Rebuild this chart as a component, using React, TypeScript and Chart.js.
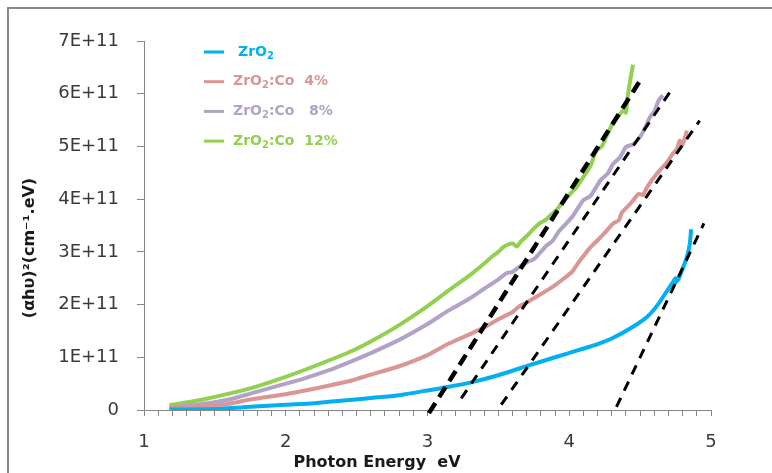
import React, { useEffect, useRef } from "react";
import { Chart, registerables } from "chart.js";

Chart.register(...registerables);

// ---------- data (y values in units of 1E+11) ----------
const seriesNames = ["ZrO2", "ZrO2:Co  4%", "ZrO2:Co   8%", "ZrO2:Co  12%"];
const seriesColors = ["#00B0F0", "#D99694", "#B3A2C7", "#92D050"];

const zro2Energy = [1.18, 1.5, 1.75, 2.0, 2.2, 2.45, 2.65, 2.8, 3.0, 3.15, 3.3, 3.5, 3.72, 3.9, 4.07, 4.2, 4.31, 4.45, 4.55, 4.62, 4.69, 4.73, 4.75, 4.74, 4.77, 4.8, 4.83, 4.85, 4.86];
const zro2Values = [0.01, 0.02, 0.06, 0.1, 0.13, 0.19, 0.24, 0.28, 0.37, 0.44, 0.52, 0.66, 0.85, 1.0, 1.14, 1.25, 1.37, 1.58, 1.77, 1.98, 2.26, 2.42, 2.5, 2.4, 2.48, 2.68, 2.9, 3.15, 3.43];

const co4Energy = [1.18, 1.4, 1.6, 1.75, 2.0, 2.1, 2.3, 2.45, 2.6, 2.8, 3.0, 3.15, 3.3, 3.4, 3.5, 3.6, 3.65, 3.7, 3.8, 3.88, 3.96, 4.02, 4.05, 4.1, 4.15, 4.2, 4.25, 4.31, 4.35, 4.37, 4.43, 4.49, 4.52, 4.55, 4.6, 4.64, 4.69, 4.73, 4.76, 4.78, 4.8, 4.83];
const co4Values = [0.04, 0.07, 0.12, 0.2, 0.3, 0.35, 0.46, 0.55, 0.67, 0.83, 1.04, 1.26, 1.44, 1.57, 1.72, 1.86, 1.97, 2.04, 2.2, 2.33, 2.49, 2.62, 2.74, 2.92, 3.09, 3.22, 3.36, 3.54, 3.6, 3.74, 3.91, 4.1, 4.08, 4.23, 4.42, 4.55, 4.7, 4.86, 4.95, 5.11, 5.04, 5.3];

const co8Energy = [1.18, 1.4, 1.6, 1.75, 2.0, 2.1, 2.3, 2.45, 2.6, 2.8, 3.0, 3.15, 3.3, 3.4, 3.5, 3.56, 3.6, 3.65, 3.7, 3.75, 3.79, 3.84, 3.88, 3.93, 3.98, 4.03, 4.1, 4.15, 4.22, 4.27, 4.31, 4.36, 4.4, 4.45, 4.5, 4.54, 4.57, 4.6, 4.63, 4.66];
const co8Values = [0.05, 0.11, 0.2, 0.31, 0.5, 0.57, 0.75, 0.91, 1.08, 1.33, 1.63, 1.89, 2.12, 2.3, 2.48, 2.6, 2.62, 2.72, 2.8, 2.86, 2.97, 3.12, 3.2, 3.4, 3.54, 3.7, 3.98, 4.06, 4.36, 4.48, 4.67, 4.8, 4.99, 5.04, 5.18, 5.38, 5.56, 5.66, 5.87, 5.97];

const co12Energy = [1.18, 1.4, 1.6, 1.75, 2.0, 2.2, 2.45, 2.6, 2.8, 3.0, 3.15, 3.3, 3.4, 3.46, 3.5, 3.53, 3.56, 3.6, 3.63, 3.66, 3.7, 3.75, 3.79, 3.83, 3.87, 3.91, 3.95, 4.0, 4.05, 4.1, 4.15, 4.19, 4.23, 4.26, 4.3, 4.33, 4.36, 4.39, 4.4, 4.41, 4.43, 4.45];
const co12Values = [0.09, 0.19, 0.31, 0.41, 0.63, 0.83, 1.1, 1.3, 1.61, 1.97, 2.27, 2.56, 2.78, 2.92, 3.0, 3.08, 3.13, 3.16, 3.1, 3.2, 3.3, 3.44, 3.54, 3.6, 3.7, 3.79, 3.93, 4.08, 4.22, 4.42, 4.63, 4.92, 5.0, 5.18, 5.4, 5.52, 5.62, 5.71, 5.64, 5.9, 6.25, 6.55];

// tangent (band-gap) lines
const fitZro2Energy = [4.333, 4.95];
const fitZro2Values = [0.06, 3.54];
const fitCo4Energy = [3.52, 4.92];
const fitCo4Values = [0.1, 5.49];
const fitCo8Energy = [3.238, 4.71];
const fitCo8Values = [0.22, 6.03];
const fitCo12Energy = [3.01, 4.5];
const fitCo12Values = [-0.06, 6.25];

const xMin = 1;
const xMax = 5;
const yMin = 0;
const yMax = 7;
const xTitle = "Photon Energy  eV";
const yTitle = "(αhυ)²(cm⁻¹.eV)";

const FONT = '"DejaVu Sans", sans-serif';

const pts = (xs: number[], ys: number[]) => xs.map((x, i) => ({ x, y: ys[i] }));

const textPlugin = {
  id: "customText",
  afterDraw(chart: any) {
    const ctx: CanvasRenderingContext2D = chart.ctx;
    const area = chart.chartArea;
    ctx.save();
    // legend
    seriesNames.forEach((name, i) => {
      const y = area.top + 11 + i * 29.7;
      const lx = area.left + 60;
      ctx.strokeStyle = seriesColors[i];
      ctx.lineWidth = 3;
      ctx.beginPath();
      ctx.moveTo(lx, y);
      ctx.lineTo(lx + 20, y);
      ctx.stroke();
      ctx.fillStyle = seriesColors[i];
      ctx.textBaseline = "middle";
      ctx.textAlign = "left";
      let x = lx + 29 + (i === 0 ? 5 : 0);
      const idx = name.indexOf("ZrO2");
      const head = name.slice(0, idx + 3);
      const rest = name.slice(idx + 4);
      ctx.font = `bold 14px ${FONT}`;
      ctx.fillText(head, x, y);
      x += ctx.measureText(head).width;
      ctx.font = `bold 10px ${FONT}`;
      ctx.fillText("2", x, y + 4);
      x += ctx.measureText("2").width;
      ctx.font = `bold 14px ${FONT}`;
      ctx.fillText(rest, x, y);
    });
    // axis titles
    ctx.fillStyle = "#1a1a1a";
    ctx.font = `bold 16px ${FONT}`;
    ctx.textAlign = "center";
    ctx.textBaseline = "middle";
    ctx.fillText(xTitle, area.left + 233, chart.height - 10);
    ctx.translate(21, area.top + 207);
    ctx.rotate(-Math.PI / 2);
    ctx.fillText(yTitle, 0, 0);
    ctx.restore();
  },
};

export default function App() {
  const ref = useRef<HTMLCanvasElement | null>(null);
  useEffect(() => {
    if (!ref.current) return;
    const curve = (label: string, xs: number[], ys: number[], color: string) => ({
      label,
      data: pts(xs, ys),
      borderColor: color,
      backgroundColor: color,
      borderWidth: 4,
      pointRadius: 0,
      tension: 0.2,
      fill: false,
      order: 2,
    });
    const fit = (xs: number[], ys: number[], w: number, dash: number[]) => ({
      label: "fit",
      data: pts(xs, ys),
      borderColor: "#000000",
      borderWidth: w,
      borderDash: dash,
      pointRadius: 0,
      tension: 0,
      fill: false,
      clip: 8,
      order: 1,
    });
    const chart = new Chart(ref.current, {
      type: "line",
      data: {
        datasets: [
          curve(seriesNames[0], zro2Energy, zro2Values, seriesColors[0]),
          curve(seriesNames[1], co4Energy, co4Values, seriesColors[1]),
          curve(seriesNames[2], co8Energy, co8Values, seriesColors[2]),
          curve(seriesNames[3], co12Energy, co12Values, seriesColors[3]),
          fit(fitZro2Energy, fitZro2Values, 3, [10, 8]),
          fit(fitCo4Energy, fitCo4Values, 3, [10, 8]),
          fit(fitCo8Energy, fitCo8Values, 3, [10, 8]),
          fit(fitCo12Energy, fitCo12Values, 4.5, [12, 7]),
        ] as any,
      },
      options: {
        responsive: false,
        animation: false,
        devicePixelRatio: 1,
        layout: { padding: { top: 32, right: 61, left: 0, bottom: 0 } },
        plugins: { legend: { display: false }, tooltip: { enabled: false }, title: { display: false } },
        scales: {
          x: {
            type: "linear",
            min: xMin,
            max: xMax,
            ticks: {
              stepSize: 0.1,
              maxTicksLimit: 100,
              autoSkip: false,
              maxRotation: 0,
              minRotation: 0,
              padding: 16,
              color: "#3a3a3a",
              font: { family: FONT, size: 18 },
              callback: (v: any) => (Math.abs(v - Math.round(v)) < 1e-6 ? String(Math.round(v)) : ""),
            },
            grid: { drawOnChartArea: false, drawTicks: true, tickLength: 6, color: "#868686" },
            border: { display: true, color: "#868686", width: 1 },
            afterFit: (s: any) => {
              s.height = 63;
            },
          },
          y: {
            type: "linear",
            min: yMin,
            max: yMax,
            ticks: {
              stepSize: 1,
              padding: 18,
              color: "#3a3a3a",
              font: { family: FONT, size: 18 },
              callback: (v: any) => (v === 0 ? "0" : `${v}E+11`),
            },
            grid: { drawOnChartArea: false, drawTicks: true, tickLength: 7, color: "#868686" },
            border: { display: true, color: "#868686", width: 1 },
            afterFit: (s: any) => {
              s.width = 135;
            },
          },
        },
      } as any,
      plugins: [textPlugin],
    });
    return () => chart.destroy();
  }, []);
  return (
    <div
      style={{
        position: "fixed",
        left: 7,
        top: 7,
        width: 770,
        height: 470,
        borderLeft: "2px solid #8a8a8a",
        borderTop: "2px solid #8a8a8a",
        background: "#ffffff",
        overflow: "hidden",
      }}
    >
      <canvas ref={ref} width={763} height={464} style={{ display: "block", width: 763, height: 464 }} />
    </div>
  );
}
